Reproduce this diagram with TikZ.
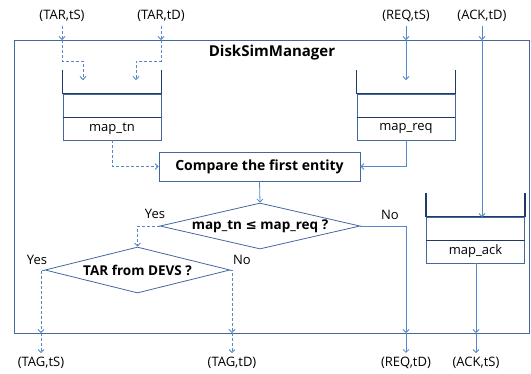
\documentclass[tikz,border=0pt]{standalone}
\usepackage{fontspec}
\setmainfont{Open Sans}
\newfontfamily\symfont{DejaVu Sans}
\usetikzlibrary{arrows.meta}
\usetikzlibrary{shapes.geometric}
\definecolor{framecol}{RGB}{68,104,158}
\definecolor{flowcol}{RGB}{84,136,202}
\definecolor{wallcol}{RGB}{32,58,104}
\tikzset{
  lbl/.style={inner sep=2pt,font=\fontsize{13}{15}\selectfont},
  bold/.style={inner sep=2pt,font=\fontsize{15}{17}\selectfont\bfseries},
  cell/.style={draw=framecol,line width=0.8pt,minimum width=98pt,minimum height=23pt,inner sep=0pt,font=\fontsize{13}{15}\selectfont},
  wall/.style={draw=wallcol,line width=1.6pt},
  flow/.style={draw=flowcol,line width=0.8pt,-{Straight Barb[length=3pt,width=6pt]}},
  dflow/.style={flow,dash pattern=on 3pt off 2pt},
  test/.style={diamond,draw=framecol,line width=0.8pt,inner sep=0pt,font=\fontsize{13.5}{15}\selectfont\bfseries}
}

\begin{document}
\begin{tikzpicture}[x=1pt,y=-1pt]
    \useasboundingbox (0,0) rectangle (531,373);
    % the manager block
    \node[draw=framecol,line width=1pt,minimum width=515pt,minimum height=293pt,inner sep=0pt] (mgr) at (271.5,186.5) {};
    \node[bold] (title) at (272,53) {DiskSimManager};

    % queues
    \node[cell] (tnmid) at (112,105.5) {};
    \node[cell] (tn) at (112,128.5) {map\_tn};
    \draw[wall] (tnmid.north west) -- ++(0,-24) (tnmid.north east) -- ++(0,-24);
    \draw[wallcol,line width=1pt] (tnmid.north west) -- (tnmid.north east) (tnmid.south west) -- (tnmid.south east);

    \node[cell] (reqmid) at (406,105.5) {};
    \node[cell] (req) at (406,128.5) {map\_req};
    \draw[wall] (reqmid.north west) -- ++(0,-24) (reqmid.north east) -- ++(0,-24);
    \draw[wallcol,line width=1pt] (reqmid.north west) -- (reqmid.north east) (reqmid.south west) -- (reqmid.south east);

    \node[cell] (ackmid) at (475.5,228.5) {};
    \node[cell] (ack) at (475.5,251.5) {map\_ack};
    \draw[wall] (ackmid.north west) -- ++(0,-24) (ackmid.north east) -- ++(0,-24);
    \draw[wallcol,line width=1pt] (ackmid.north west) -- (ackmid.north east) (ackmid.south west) -- (ackmid.south east);

    % compare and tests
    \node[draw=framecol,line width=0.8pt,minimum width=201pt,minimum height=29pt,inner sep=0pt,font=\fontsize{14}{16}\selectfont\bfseries] (cmp) at (259.5,166.5) {Compare the first entity};
    \node[test,aspect=4.35,minimum width=200pt,minimum height=46pt] (order) at (260,226) {map\_tn {\symfont ≤} map\_req ?};
    \node[test,aspect=4.02,minimum width=185pt,minimum height=46pt] (devs) at (137.5,270) {TAR from DEVS ?};
    \node[lbl] (yes1) at (155,214) {Yes};
    \node[lbl] (no1) at (390,215) {No};
    \node[lbl] (yes2) at (37,260) {Yes};
    \node[lbl] (no2) at (242,260) {No};

    % inputs
    \node[lbl,inner sep=4pt] (tarS) at (62,16) {(TAR,tS)};
    \node[lbl,inner sep=4pt] (tarD) at (161,16) {(TAR,tD)};
    \node[lbl,inner sep=4pt] (reqS) at (406,16) {(REQ,tS)};
    \node[lbl,inner sep=4pt] (ackD) at (482,16) {(ACK,tD)};
    \coordinate (tarSin) at (62,40);
    \coordinate (tarDin) at (161,40);
    \coordinate (reqSin) at (406,40);
    \coordinate (ackDin) at (482,40);
    \coordinate (tnA) at (83,80);
    \coordinate (tnB) at (136,80);
    \coordinate (reqA) at (406,80);
    \coordinate (ackA) at (482,217);
    \draw[dflow] (tarS) -- (tarSin);
    \draw[dflow] (tarSin) -- ++(0,21) -| (tnA);
    \draw[dflow] (tarD) -- (tarDin);
    \draw[dflow] (tarDin) -- ++(0,21) -| (tnB);
    \draw[flow] (reqS) -- (reqSin);
    \draw[flow] (reqSin) -- (reqA);
    \draw[flow] (ackD) -- (ackDin);
    \draw[flow] (ackDin) -- (ackA);

    % into the comparison
    \draw[dflow] (tn.south) |- (cmp.west);
    \draw[flow] (req.south) |- (cmp.east);
    \draw[flow] (cmp.south) -- (order.north);
    \draw[dflow] (order.west) -| (devs.north);

    % outputs
    \node[lbl,inner sep=4pt] (tagS) at (41,363) {(TAG,tS)};
    \node[lbl,inner sep=4pt] (tagD) at (232,363) {(TAG,tD)};
    \node[lbl,inner sep=4pt] (reqD) at (406,363) {(REQ,tD)};
    \node[lbl,inner sep=4pt] (ackS) at (476,363) {(ACK,tS)};
    \coordinate (tagSout) at (41,333);
    \coordinate (tagDout) at (232,333);
    \coordinate (reqDout) at (406,333);
    \coordinate (ackSout) at (476,333);
    \draw[dflow] (devs.west) -| (tagSout);
    \draw[dflow] (tagSout) -- (tagS);
    \draw[dflow] (devs.east) -| (tagDout);
    \draw[dflow] (tagDout) -- (tagD);
    \draw[flow] (order.east) -| (reqDout);
    \draw[flow] (reqDout) -- (reqD);
    \draw[flow] (ack.south -| ackSout) -- (ackSout);
    \draw[flow] (ackSout) -- (ackS);
  \end{tikzpicture}
\end{document}
